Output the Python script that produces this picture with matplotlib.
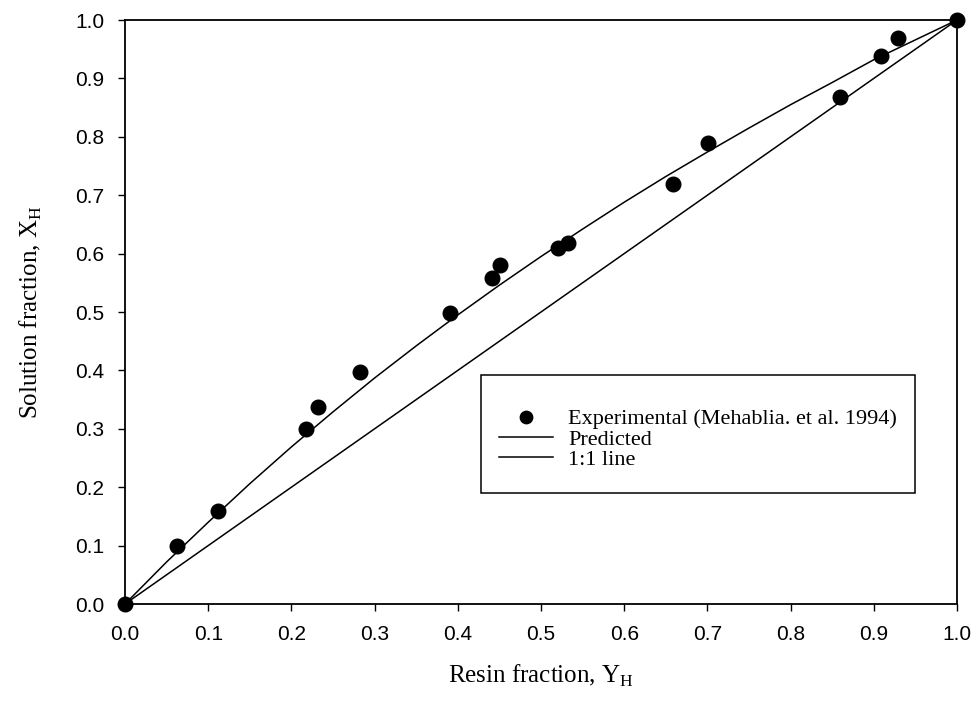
import matplotlib
matplotlib.use("Agg")
import matplotlib.pyplot as plt
from matplotlib.patches import Rectangle

# Experimental data (Mehablia et al. 1994)
exp_resin = [0.0, 0.062, 0.112, 0.218, 0.232, 0.282, 0.391, 0.441, 0.451, 0.521, 0.532,
             0.659, 0.701, 0.859, 0.909, 0.929, 1.0]
exp_solution = [0.0, 0.10, 0.16, 0.299, 0.338, 0.398, 0.499, 0.559, 0.580, 0.609, 0.619,
                0.719, 0.789, 0.868, 0.938, 0.969, 1.0]

# Predicted curve
pred_resin = [0.0, 0.05, 0.1, 0.15, 0.2, 0.25, 0.3, 0.35, 0.4, 0.45, 0.5, 0.55, 0.6,
              0.65, 0.7, 0.75, 0.8, 0.85, 0.9, 0.95, 1.0]
pred_solution = [0.0, 0.072, 0.140, 0.206, 0.269, 0.329, 0.387, 0.442, 0.495, 0.546, 0.595,
                 0.642, 0.688, 0.732, 0.774, 0.815, 0.855, 0.893, 0.932, 0.966, 1.0]

# 1:1 line
one_resin = [0.0, 1.0]
one_solution = [0.0, 1.0]

ticks = [0.0, 0.1, 0.2, 0.3, 0.4, 0.5, 0.6, 0.7, 0.8, 0.9, 1.0]
tick_labels = ["0.0", "0.1", "0.2", "0.3", "0.4", "0.5", "0.6", "0.7", "0.8", "0.9", "1.0"]

serif = ["Liberation Serif", "DejaVu Serif"]
sans = ["Liberation Sans", "DejaVu Sans"]

fig = plt.figure(figsize=(9.79, 7.11), dpi=100)
ax = fig.add_axes([125 / 979, 1 - 604 / 711, 832 / 979, 584 / 711])

ax.plot(exp_resin, exp_solution, linestyle="none", marker="o", color="black",
        markersize=10.5, label="Experimental (Mehablia. et al. 1994)", zorder=3, clip_on=False)
ax.plot(pred_resin, pred_solution, color="black", linewidth=1.1, label="Predicted")
ax.plot(one_resin, one_solution, color="black", linewidth=1.1, label="1:1 line")

ax.set_xlim(0, 1)
ax.set_ylim(0, 1)
ax.set_xticks(ticks)
ax.set_yticks(ticks)
ax.set_xticklabels(tick_labels, fontfamily=sans, fontsize=15)
ax.set_yticklabels(tick_labels, fontfamily=sans, fontsize=15)
ax.tick_params(axis="both", direction="out", length=5, width=1.0, pad=10, color="black")
for s in ax.spines.values():
    s.set_linewidth(1.3)

ax.set_xlabel("Resin fraction, Y" + r"$_\mathregular{H}$", fontfamily=serif, fontsize=18)
ax.set_ylabel("Solution fraction, X" + r"$_\mathregular{H}$", fontfamily=serif, fontsize=18)
ax.xaxis.set_label_coords(0.5, -0.1)
ax.yaxis.set_label_coords(-0.097, 0.5)

# legend frame
ax.add_patch(Rectangle((0.428, 0.19), 0.9495 - 0.428, 0.392 - 0.19, transform=ax.transAxes,
                       fill=True, facecolor="white", edgecolor="black", linewidth=1.1, zorder=4))
leg = ax.legend(loc="center", bbox_to_anchor=(0.689, 0.282), frameon=False,
                prop={"family": serif, "size": 16}, handlelength=2.4, handletextpad=0.7,
                labelspacing=-0.02, markerscale=0.85)
leg.set_zorder(5)

fig.savefig("out.png", dpi=100)
